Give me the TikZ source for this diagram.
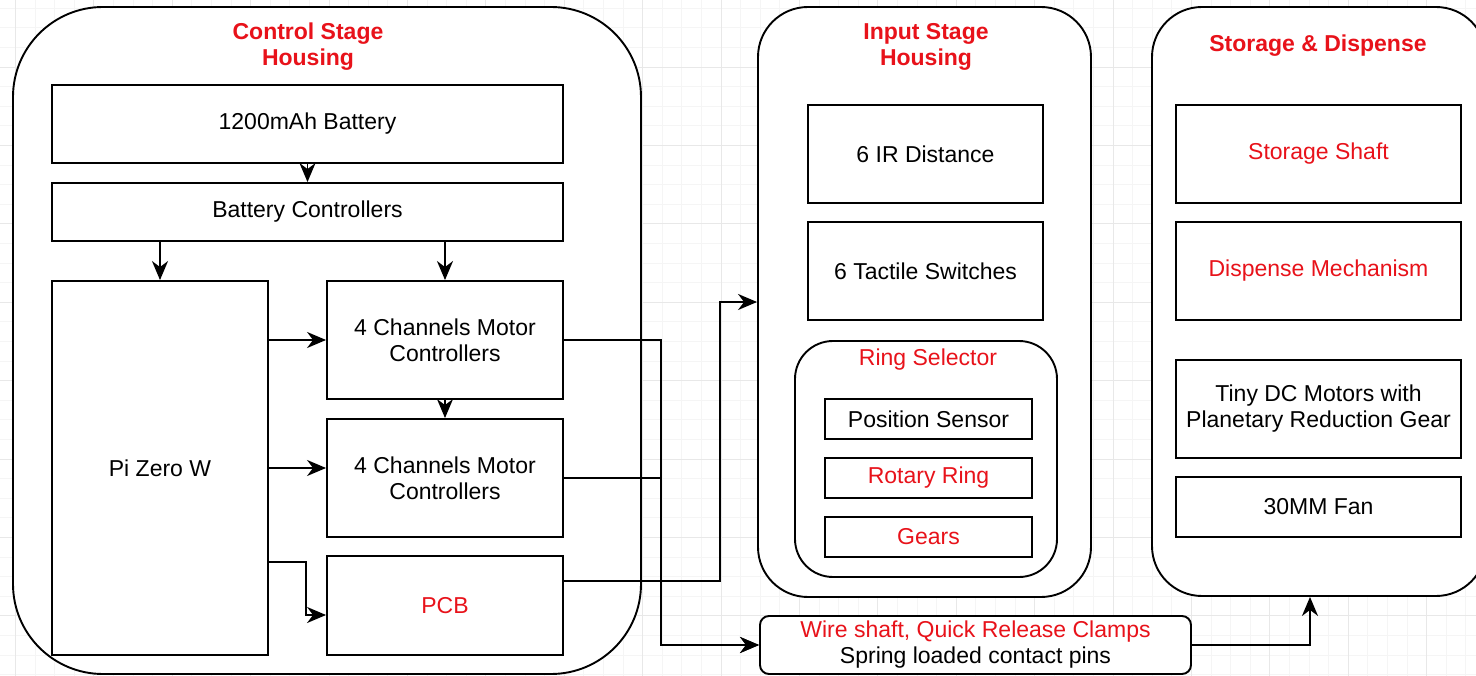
\documentclass[tikz,border=0pt]{standalone}
\usepackage{fontspec}
\setmainfont{Liberation Sans}
\usetikzlibrary{arrows.meta,calc}
\definecolor{stagered}{RGB}{232,18,26}
\tikzset{
  box/.style={
      draw,
      line width=1.9pt,
      fill=white,
      align=center,
      inner sep=0pt,
      font=\fontsize{23}{26}\selectfont
  },
  housing/.style={box, rounded corners=#1},
  title/.style={
      text=stagered,
      align=center,
      font=\fontsize{23}{26}\selectfont\bfseries
  },
  redtext/.style={text=stagered},
  link/.style={line width=1.9pt, -{Stealth[length=19pt,width=16pt,inset=6pt]}},
  gridminor/.style={black!4, line width=0.8pt},
  gridmajor/.style={black!9, line width=0.8pt}
}

\begin{document}
\begin{tikzpicture}[x=1pt,y=-1pt]
    \useasboundingbox (0,0) rectangle (1476,676);
    \foreach \gx in {-4.2,15.4,...,1480} \draw[gridminor] (\gx,0) -- (\gx,676);
    \foreach \gy in {8.2,27.8,...,680} \draw[gridminor] (0,\gy) -- (1476,\gy);
    \foreach \gx in {15.4,93.8,...,1480} \draw[gridmajor] (\gx,0) -- (\gx,676);
    \foreach \gy in {-11.4,67,...,680} \draw[gridmajor] (0,\gy) -- (1476,\gy);

    \node[housing=90pt, minimum width=628pt, minimum height=667pt] (control) at (327,340.5) {};
    \node[title] (ctitle) at (308,47) {Control Stage\\Housing};
    \node[box, minimum width=511pt, minimum height=78pt] (bat) at (307.5,124) {1200mAh Battery};
    \node[box, minimum width=511pt, minimum height=58pt] (bctrl) at (307.5,212) {Battery Controllers};
    \node[box, minimum width=216pt, minimum height=374pt] (pi) at (160,468) {Pi Zero W};
    \node[box, minimum width=236pt, minimum height=118pt] (mcA) at (445,340) {4 Channels Motor\\Controllers};
    \node[box, minimum width=236pt, minimum height=118pt] (mcB) at (445,478) {4 Channels Motor\\Controllers};
    \node[box, redtext, minimum width=236pt, minimum height=99pt] (pcb) at (445,605.5) {PCB};

    \node[housing=50pt, minimum width=333pt, minimum height=590pt] (inhouse) at (924.5,302) {};
    \node[title] (ititle) at (926,47) {Input Stage\\Housing};
    \node[box, minimum width=235pt, minimum height=98pt] (ir) at (925.5,154) {6 IR Distance};
    \node[box, minimum width=235pt, minimum height=98pt] (tact) at (925.5,271) {6 Tactile Switches};
    \node[housing=38pt, minimum width=262pt, minimum height=236pt] (ring) at (926,459) {};
    \node[redtext, font=\fontsize{23}{26}\selectfont] (rtitle) at (928,360) {Ring Selector};
    \node[box, minimum width=207pt, minimum height=40pt] (pos) at (928.5,419) {Position Sensor};
    \node[box, redtext, minimum width=207pt, minimum height=40pt] (rot) at (928.5,478) {Rotary Ring};
    \node[box, redtext, minimum width=207pt, minimum height=40pt] (gears) at (928.5,537) {Gears};

    \node[housing=50pt, minimum width=334pt, minimum height=589pt] (store) at (1319,301.5) {};
    \node[title] (stitle) at (1318,46) {Storage \& Dispense};
    \node[box, redtext, minimum width=285pt, minimum height=98pt] (shaft) at (1318.5,154) {Storage Shaft};
    \node[box, redtext, minimum width=285pt, minimum height=98pt] (disp) at (1318.5,271) {Dispense Mechanism};
    \node[box, minimum width=285pt, minimum height=98pt] (motors) at (1318.5,409) {Tiny DC Motors with\\Planetary Reduction Gear};
    \node[box, minimum width=285pt, minimum height=60pt] (fan) at (1318.5,507) {30MM Fan};

    \node[housing=9pt, minimum width=431pt, minimum height=58pt] (wire) at (975.5,645)
        {\textcolor{stagered}{Wire shaft, Quick Release Clamps}\\Spring loaded contact pins};

    \coordinate (bus) at (661,0);
    \coordinate (riser) at (720,0);
    \coordinate (pcbbend) at (306,562);

    \draw[link] (bat.south) -- (bctrl.north);
    \draw[link] (pi.north |- bctrl.south) -- (pi.north);
    \draw[link] (mcA.north |- bctrl.south) -- (mcA.north);
    \draw[link] (mcA.south) -- (mcB.north);
    \draw[link] (pi.east |- mcA.west) -- (mcA.west);
    \draw[link] (pi.east) -- (pi.east -| mcB.west);
    \draw[link] (pi.east |- pcbbend) -- (pcbbend) |- ([yshift=-9.5pt]pcb.west);
    \draw[link] (mcA.east) -| (bus |- wire.west) -- (wire.west);
    \draw[link] (mcB.east) -| (bus |- wire.west) -- (wire.west);
    \draw[link] ([yshift=24.5pt]pcb.east) -| (riser |- inhouse.west) -- (inhouse.west);
    \draw[link] (wire.east) -| ([xshift=-9pt]store.south);
\end{tikzpicture}
\end{document}
